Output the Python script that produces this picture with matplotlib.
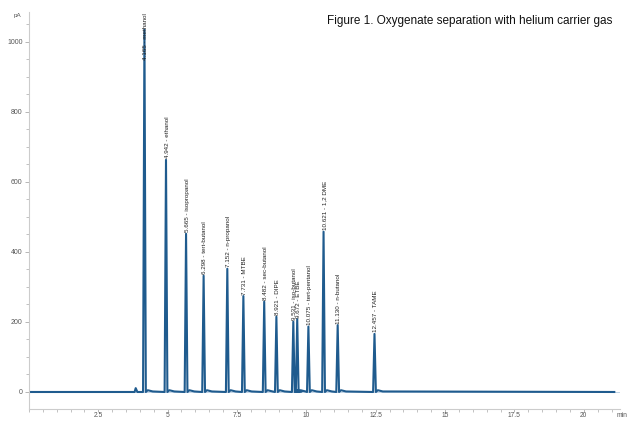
import matplotlib
matplotlib.use("Agg")
import matplotlib.pyplot as plt
from matplotlib.ticker import MultipleLocator

plt.rcParams["font.family"] = ["Liberation Sans", "DejaVu Sans"]

# peak table (retention time in min, height in pA)
ret_times = [4.165, 4.942, 5.665, 6.298, 7.152, 7.731, 8.482, 8.921,
             9.531, 9.672, 10.075, 10.621, 11.130, 12.457]
heights = [1035, 663, 452, 332, 352, 274, 258, 215,
           201, 208, 187, 458, 191, 166]
names = ["methanol", "ethanol", "isopropanol", "tert-butanol", "n-propanol",
         "MTBE", "sec-butanol", "DIPE", "iso-butanol", "ETBE",
         "tert-pentanol", "1,2 DME", "n-butanol", "TAME"]
label_y = [945, 663, 452, 332, 352, 274, 258, 215,
           201, 208, 187, 458, 191, 166]

# unlabelled small bump before methanol
bump_time = 3.85
bump_height = 11
run_end = 21.1

x_ticks = [2.5, 5, 7.5, 10, 12.5, 15, 17.5, 20]
y_ticks = [0, 200, 400, 600, 800, 1000]

line_col = "#1f5b8e"
grey = "#555555"
half_w = 0.05

# build the trace as a polyline: baseline -> apex -> baseline for each peak
tx, ty = [0.0], [0.0]
tx += [bump_time - 0.04, bump_time, bump_time + 0.06]
ty += [0, bump_height, 0]
for t, h in zip(ret_times, heights):
    tx += [t - half_w, t, t + half_w, t + 0.12, t + 0.3]
    ty += [0, h, 0, 5, 1.5]
tx.append(run_end)
ty.append(0)

fig = plt.figure(figsize=(6.28, 4.21), dpi=100)
ax = fig.add_axes([0.046, 0.029, 0.941, 0.943])

ax.axhline(0, color="#a9c4dc", lw=0.5, zorder=1)
ax.plot(tx, ty, color=line_col, lw=1.5, solid_joinstyle="round", zorder=2)

for t, n, ly in zip(ret_times, names, label_y):
    ax.text(t + 0.04, ly + 4, f"{t:.3f} - {n}", rotation=90, ha="center",
            va="bottom", fontsize=4.5, color="#222222", zorder=3)

ax.set_xlim(0, 21.3)
ax.set_ylim(-48, 1086)
ax.set_xticks(x_ticks)
ax.set_xticklabels([f"{v:g}" for v in x_ticks])
ax.set_yticks(y_ticks)
ax.xaxis.set_minor_locator(MultipleLocator(0.5))
ax.yaxis.set_minor_locator(MultipleLocator(50))

for side in ("top", "right"):
    ax.spines[side].set_visible(False)
for side in ("left", "bottom"):
    ax.spines[side].set_color("#cccccc")
    ax.spines[side].set_linewidth(0.8)

ax.tick_params(which="major", length=3, width=0.5, color="#999999",
               labelsize=5, labelcolor=grey, pad=1.5)
ax.tick_params(axis="x", which="major", length=2, pad=0.5, labelsize=4.8)
ax.tick_params(which="minor", length=2, width=0.5, color="#aaaaaa")

fig.text(0.022, 0.962, "pA", fontsize=4.5, color=grey, ha="left", va="center")
fig.text(0.999, 0.012, "min", fontsize=4.8, color=grey, ha="right", va="center")
fig.text(0.975, 0.95, "Figure 1. Oxygenate separation with helium carrier gas",
         fontsize=8.5, color="#111111", ha="right", va="center")

fig.savefig("out.png", dpi=100)
